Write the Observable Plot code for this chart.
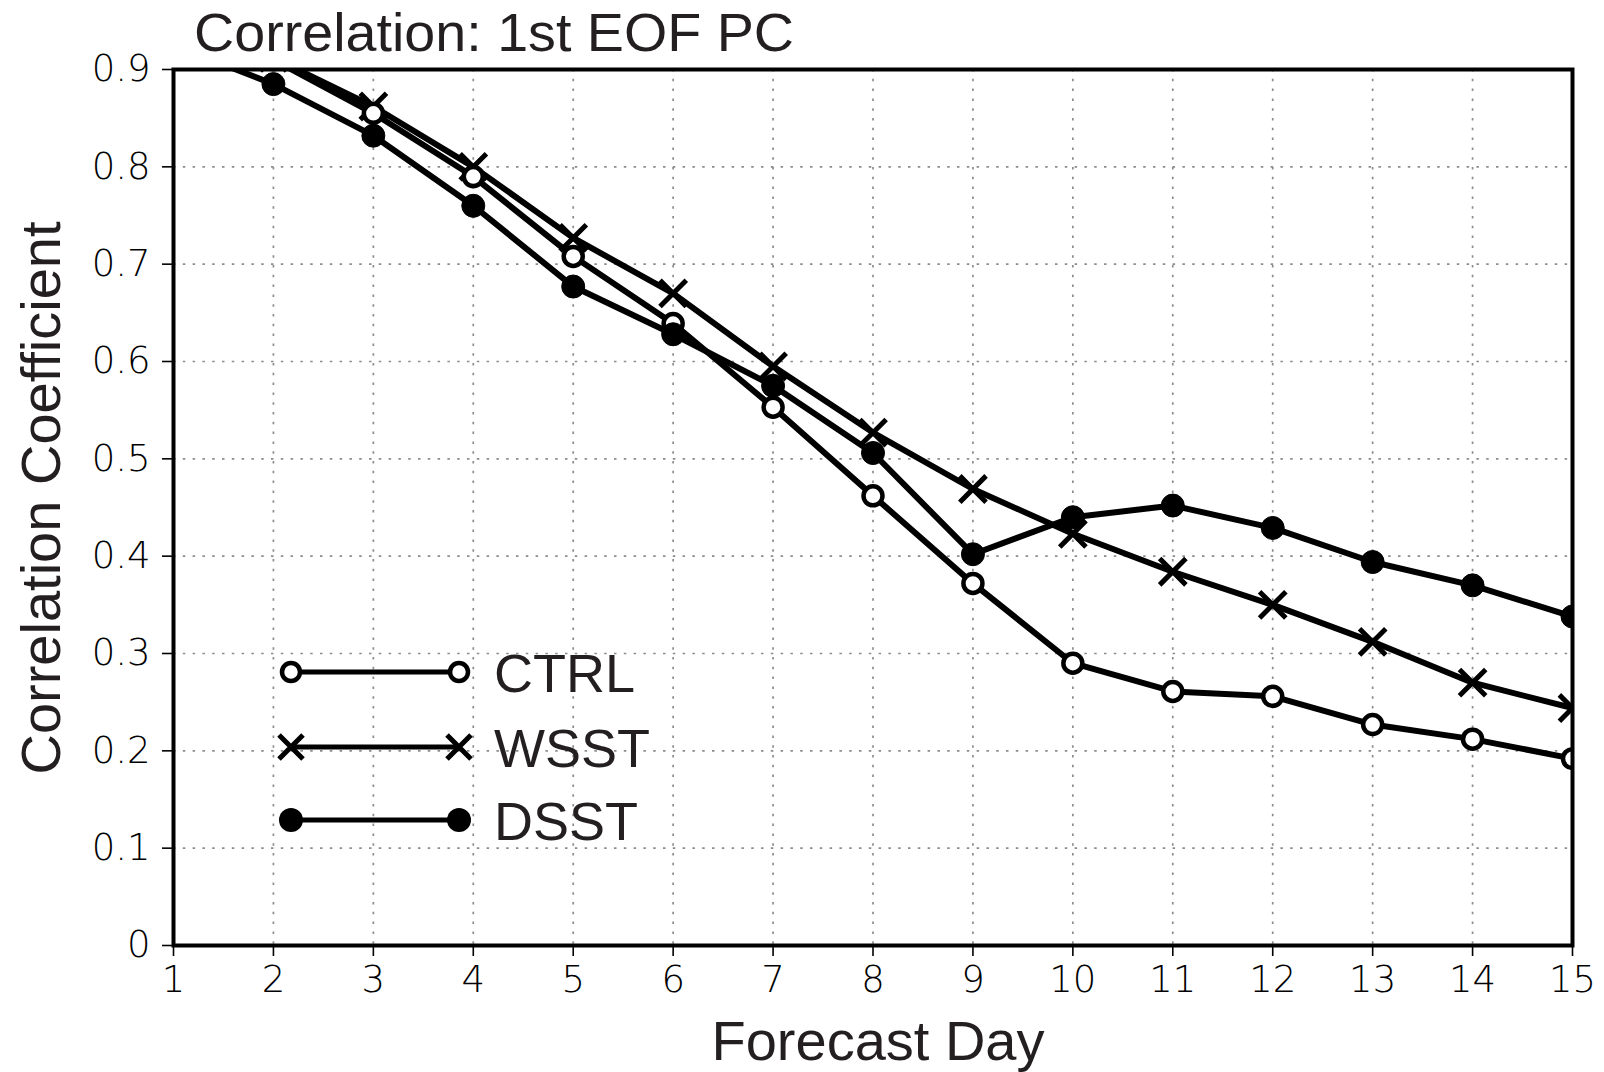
<!DOCTYPE html>
<html>
<head>
<meta charset="utf-8">
<script src="https://cdn.jsdelivr.net/npm/d3@7"></script>
<script src="https://cdn.jsdelivr.net/npm/@observablehq/plot@0.6"></script>
<style>
  html, body { margin: 0; padding: 0; background: #fff; }
  #chart svg { display: block; }
  g[aria-label="x-axis tick label"], g[aria-label="y-axis tick label"] {
    font-family: "DejaVu Sans ExtraLight", "DejaVu Sans", sans-serif;
    font-weight: 200;
    font-size: 37px;
    fill: #000;
  }
</style>
</head>
<body>
<div id="chart"></div>
<script>
// ---- data ----
const days = [1, 2, 3, 4, 5, 6, 7, 8, 9, 10, 11, 12, 13, 14, 15];
const ctrl = [0.95, 0.91, 0.855, 0.790, 0.708, 0.639, 0.553, 0.462, 0.372, 0.290, 0.261, 0.256, 0.227, 0.212, 0.192];
const wsst = [0.95, 0.912, 0.862, 0.800, 0.727, 0.670, 0.595, 0.527, 0.469, 0.423, 0.384, 0.350, 0.312, 0.270, 0.244];
const dsst = [0.925, 0.885, 0.832, 0.760, 0.677, 0.628, 0.575, 0.506, 0.402, 0.440, 0.452, 0.429, 0.394, 0.370, 0.338];
const seriesNames = ["CTRL", "WSST", "DSST"];
const xTicks = [1, 2, 3, 4, 5, 6, 7, 8, 9, 10, 11, 12, 13, 14, 15];
const yTicks = [0, 0.1, 0.2, 0.3, 0.4, 0.5, 0.6, 0.7, 0.8, 0.9];
const yTickLabels = ["0", "0.1", "0.2", "0.3", "0.4", "0.5", "0.6", "0.7", "0.8", "0.9"];
const titleText = "Correlation: 1st EOF PC";
const xLabel = "Forecast Day";
const yLabel = "Correlation Coefficient";

// ---- build tables ----
const seriesValues = [ctrl, wsst, dsst];
const rows = seriesNames.flatMap((s, k) => days.map((d, i) => ({day: d, v: seriesValues[k][i], s})));
const ctrlRows = rows.filter(r => r.s === "CTRL");
const wsstRows = rows.filter(r => r.s === "WSST");
const dsstRows = rows.filter(r => r.s === "DSST");

const W = 1604, H = 1072;
const mL = 173, mR = 32, mT = 69, mB = 127;

const gridStyle = {stroke: "#8c8c8c", strokeOpacity: 1, strokeWidth: 1.7, strokeDasharray: "2.5,7.3"};

const plot = Plot.plot({
  width: W, height: H,
  marginLeft: mL, marginRight: mR, marginTop: mT, marginBottom: mB,
  style: {background: "#fff", overflow: "visible"},
  x: {domain: [1, 15]},
  y: {domain: [0, 0.9]},
  marks: [
    Plot.gridX(xTicks, gridStyle),
    Plot.gridY(yTicks, gridStyle),
    Plot.axisX(xTicks, {tickSize: 11, tickPadding: 9, strokeWidth: 1.6, tickFormat: d => String(d), label: null}),
    Plot.axisY(yTicks, {tickSize: 11, tickPadding: 12, strokeWidth: 1.6, tickFormat: d => yTickLabels[yTicks.indexOf(d)], label: null}),
    Plot.line(rows, {x: "day", y: "v", z: "s", stroke: "black", strokeWidth: 6, clip: true}),
    Plot.dot(wsstRows, {x: "day", y: "v", symbol: "times", r: 12, stroke: "black", strokeWidth: 5, clip: true}),
    Plot.dot(ctrlRows, {x: "day", y: "v", symbol: "circle", r: 9.5, fill: "white", stroke: "black", strokeWidth: 4.5, clip: true}),
    Plot.dot(dsstRows, {x: "day", y: "v", symbol: "circle", r: 11.5, fill: "black", stroke: "black", strokeWidth: 1, clip: true}),
    Plot.frame({stroke: "black", strokeWidth: 4})
  ]
});

document.getElementById("chart").appendChild(plot);

// ---- texts and legend ----
const svg = d3.select(plot);
const sans = "'Liberation Sans', Arial, Helvetica, sans-serif";

svg.append("text")
  .attr("x", 194).attr("y", 51)
  .attr("text-anchor", "start")
  .attr("font-family", sans).attr("font-size", 54)
  .attr("textLength", 600).attr("lengthAdjust", "spacingAndGlyphs")
  .attr("fill", "#231f20")
  .text(titleText);

svg.append("text")
  .attr("transform", "translate(60,498) rotate(-90)")
  .attr("text-anchor", "middle")
  .attr("font-family", sans).attr("font-size", 56)
  .attr("fill", "#231f20")
  .text(yLabel);

svg.append("text")
  .attr("x", 878).attr("y", 1060)
  .attr("text-anchor", "middle")
  .attr("font-family", sans).attr("font-size", 56)
  .attr("fill", "#231f20")
  .text(xLabel);

const legendY = [672, 747, 820];
const lx0 = 291, lx1 = 459, ltx = 494;
const lg = svg.append("g").attr("aria-label", "legend");
seriesNames.forEach((name, k) => {
  const y = legendY[k];
  lg.append("line").attr("x1", lx0).attr("x2", lx1).attr("y1", y).attr("y2", y)
    .attr("stroke", "black").attr("stroke-width", 5);
  [lx0, lx1].forEach(x => {
    if (name === "CTRL") {
      lg.append("circle").attr("cx", x).attr("cy", y).attr("r", 9)
        .attr("fill", "white").attr("stroke", "black").attr("stroke-width", 4.5);
    } else if (name === "WSST") {
      lg.append("path").attr("d", `M${x-12},${y-12}L${x+12},${y+12}M${x-12},${y+12}L${x+12},${y-12}`)
        .attr("stroke", "black").attr("stroke-width", 5).attr("fill", "none");
    } else {
      lg.append("circle").attr("cx", x).attr("cy", y).attr("r", 12).attr("fill", "black");
    }
  });
  lg.append("text").attr("x", ltx).attr("y", y + 20)
    .attr("text-anchor", "start")
    .attr("font-family", sans).attr("font-size", 54).attr("fill", "#231f20")
    .text(name);
});
</script>
</body>
</html>
